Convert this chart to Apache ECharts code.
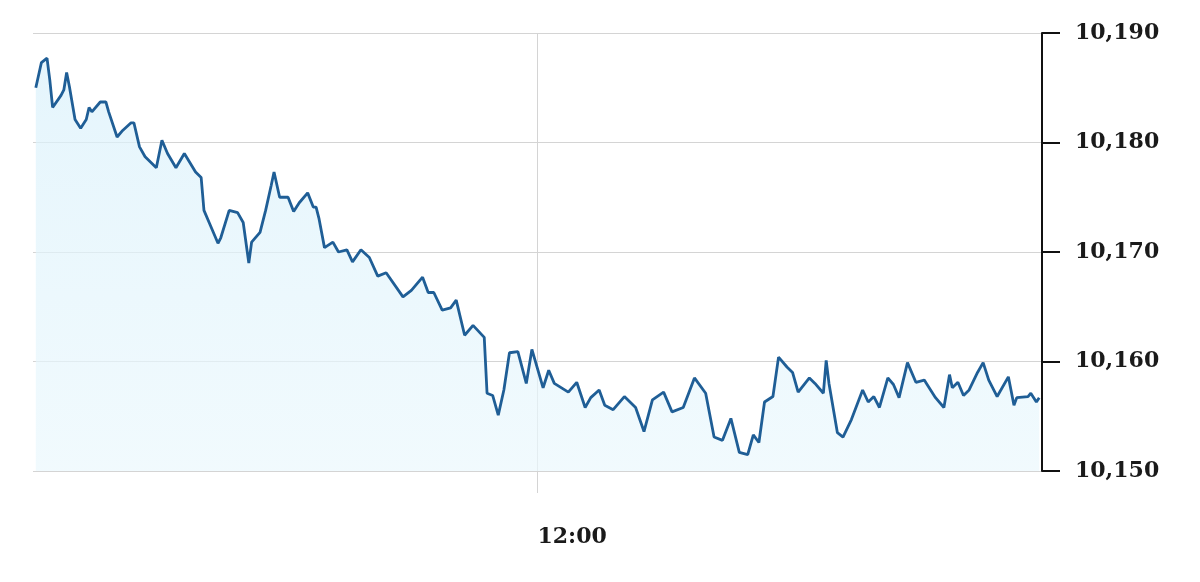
<!DOCTYPE html>
<html>
<head>
<meta charset="utf-8">
<script src="https://cdn.jsdelivr.net/npm/echarts@6/dist/echarts.min.js"></script>
<style>
  html, body { margin: 0; padding: 0; background: #fff; }
  #chart { width: 1200px; height: 582px; }
</style>
</head>
<body>
<div id="chart"></div>
<script>
// minutes after 09:00
const minutes = [
  1, 3, 5, 6, 7, 10, 11, 12, 13, 15, 17, 19, 20, 21, 24, 26, 27, 30, 32, 35,
  36, 38, 40, 44, 46, 48, 51, 54, 58, 60, 61, 63, 66, 67, 70, 73, 75, 77, 78, 81,
  83, 85, 86, 88, 91, 93, 95, 98, 100, 101, 102, 104, 107, 109, 112, 114, 117, 120, 123, 126,
  132, 135, 139, 141, 143, 146, 149, 151, 154, 157, 161, 162, 164, 166, 168, 170, 173, 176, 178, 182,
  184, 186, 191, 194, 197, 199, 202, 204, 207, 211, 215, 218, 221, 225, 228, 232, 236, 240, 243, 246,
  249, 252, 255, 257, 259, 261, 264, 266, 269, 271, 273, 277, 279, 282, 283, 284, 287, 289, 292, 296,
  298, 300, 302, 305, 307, 309, 312, 315, 318, 319, 322, 325, 327, 328, 330, 332, 334, 337, 339, 341,
  344, 348, 350, 351, 355, 356, 358, 359
];
const prices = [
  10185.0, 10187.3, 10187.7, 10185.7, 10183.2, 10184.3, 10184.8, 10186.4, 10185.1, 10182.1,
  10181.3, 10182.1, 10183.2, 10182.8, 10183.7, 10183.7, 10182.8, 10180.5, 10181.1, 10181.8,
  10181.8, 10179.6, 10178.7, 10177.7, 10180.2, 10179.0, 10177.7, 10179.0, 10177.3, 10176.8,
  10173.8, 10172.6, 10170.8, 10171.3, 10173.8, 10173.6, 10172.7, 10169.0, 10170.9, 10171.8,
  10173.8, 10176.1, 10177.3, 10175.0, 10175.0, 10173.7, 10174.5, 10175.4, 10174.1, 10174.1,
  10173.1, 10170.4, 10170.9, 10170.0, 10170.2, 10169.1, 10170.2, 10169.5, 10167.8, 10168.1,
  10165.9, 10166.5, 10167.7, 10166.3, 10166.3, 10164.7, 10164.9, 10165.6, 10162.4, 10163.3,
  10162.2, 10157.1, 10156.9, 10155.1, 10157.4, 10160.8, 10160.9, 10158.0, 10161.1, 10157.6,
  10159.2, 10158.0, 10157.2, 10158.1, 10155.8, 10156.7, 10157.4, 10156.0, 10155.6, 10156.8,
  10155.8, 10153.6, 10156.5, 10157.2, 10155.4, 10155.8, 10158.5, 10157.1, 10153.1, 10152.8,
  10154.8, 10151.7, 10151.5, 10153.3, 10152.6, 10156.3, 10156.8, 10160.4, 10159.5, 10159.0,
  10157.2, 10158.5, 10158.0, 10157.1, 10160.1, 10158.0, 10153.5, 10153.1, 10154.7, 10157.4,
  10156.3, 10156.8, 10155.8, 10158.5, 10157.9, 10156.7, 10159.9, 10158.1, 10158.3, 10157.9,
  10156.7, 10155.8, 10158.8, 10157.6, 10158.1, 10156.9, 10157.4, 10159.0, 10159.9, 10158.3,
  10156.8, 10158.6, 10156.0, 10156.7, 10156.8, 10157.1, 10156.3, 10156.7
];
const yTicks = [10150, 10160, 10170, 10180, 10190];
const timeLabel = '12:00';

const chart = echarts.init(document.getElementById('chart'));
const fmt = v => String(v).replace(/\B(?=(\d{3})+(?!\d))/g, ',');

let option = {
  backgroundColor: '#fff',
  animation: false,
  grid: { left: 33, right: 158, top: 33, bottom: 111 },
  xAxis: {
    type: 'value',
    min: 0,
    max: 360,
    interval: 180,
    axisLine: { show: false },
    axisTick: {
      show: true,
      customValues: [180],
      length: 22,
      lineStyle: { color: '#d4d4d4', width: 1 }
    },
    axisLabel: {
      customValues: [180],
      formatter: () => timeLabel,
      align: 'left',
      margin: 55,
      color: '#1a1a1a',
      fontFamily: 'DejaVu Serif',
      fontWeight: 'bold',
      fontSize: 22
    },
    splitLine: {
      show: true,
      lineStyle: { color: '#d4d4d4', width: 1 }
    }
  },
  yAxis: {
    type: 'value',
    position: 'right',
    min: yTicks[0],
    max: yTicks[yTicks.length - 1],
    interval: 10,
    axisLine: { show: true, onZero: false, lineStyle: { color: '#111', width: 2 } },
    axisTick: { show: true, inside: false, length: 18, lineStyle: { color: '#111', width: 2 } },
    axisLabel: {
      margin: 33,
      padding: [6, 0, 0, 0],
      formatter: fmt,
      color: '#1a1a1a',
      fontFamily: 'DejaVu Serif',
      fontWeight: 'bold',
      fontSize: 22
    },
    splitLine: { show: true, lineStyle: { color: '#d4d4d4', width: 1 } }
  },
  series: [
    {
      type: 'line',
      data: minutes.map((m, i) => [m, prices[i]]),
      symbol: 'none',
      smooth: false,
      lineStyle: { color: '#1f5e96', width: 2.8 },
      areaStyle: {
        origin: 'start',
        color: new echarts.graphic.LinearGradient(0, 0, 0, 1, [
          { offset: 0, color: '#daf1fb' },
          { offset: 1, color: '#ebf8fd' }
        ])
      }
    }
  ]
};
chart.setOption(option);
</script>
</body>
</html>
